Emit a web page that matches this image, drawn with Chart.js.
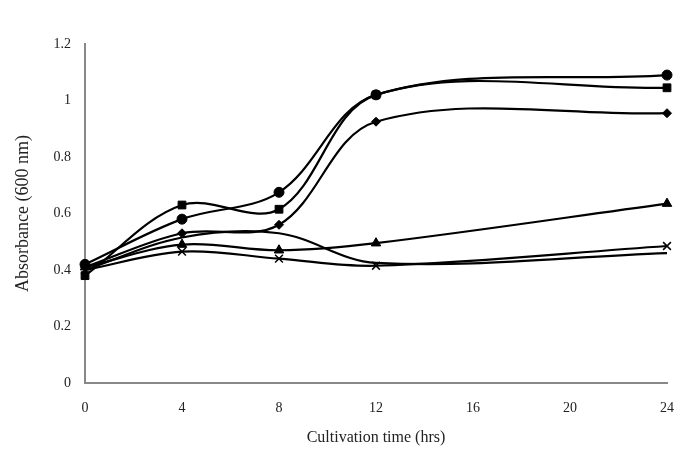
<!DOCTYPE html>
<html>
<head>
<meta charset="utf-8">
<script src="https://cdn.jsdelivr.net/npm/chart.js@4"></script>
<style>
  html, body { margin: 0; padding: 0; background: #fff; }
  #wrap { width: 683px; height: 456px; }
</style>
</head>
<body>
<div id="wrap"><canvas id="myChart" width="683" height="456"></canvas></div>
<script>
// sampling times (hrs)
const hours = [0, 4, 8, 12, 24];
const xTicks = [0, 4, 8, 12, 16, 20, 24];
const yTicks = [0, 0.2, 0.4, 0.6, 0.8, 1, 1.2];

// absorbance readings per series
const circleVals = [0.42, 0.58, 0.675, 1.02, 1.09];
const squareVals = [0.38, 0.63, 0.615, 1.02, 1.045];
const diamondVals = [0.41, 0.53, 0.56, 0.925, 0.955];
const triangleVals = [0.41, 0.49, 0.47, 0.495, 0.635];
const crossVals = [0.40, 0.465, 0.44, 0.415, 0.485];
const plainVals = [0.40, 0.515, 0.53, 0.425, 0.46];

const toPts = (vals) => vals.map((v, i) => ({ x: hours[i], y: v }));

const mkSet = (vals, style, radius) => ({
  data: toPts(vals),
  borderColor: '#000',
  backgroundColor: '#000',
  borderWidth: 2.2,
  pointStyle: style,
  pointRadius: radius,
  pointBorderWidth: style === 'crossRot' ? 1.5 : 1,
  tension: 0.35,
  clip: false,
  fill: false
});

const ctx = document.getElementById('myChart');
const tickFont = { family: 'Liberation Serif', size: 14 };

new Chart(ctx, {
  type: 'line',
  data: {
    datasets: [
      mkSet(plainVals, false, 0),
      mkSet(crossVals, 'crossRot', 5.5),
      mkSet(triangleVals, 'triangle', 5.5),
      mkSet(diamondVals, 'rectRot', 4.5),
      mkSet(squareVals, 'rect', 5.5),
      mkSet(circleVals, 'circle', 5)
    ]
  },
  options: {
    responsive: false,
    animation: false,
    layout: { padding: { top: 44, right: 16, left: 0, bottom: 0 } },
    plugins: { legend: { display: false }, tooltip: { enabled: false } },
    scales: {
      x: {
        type: 'linear',
        min: 0,
        max: 24,
        afterFit: (s) => { s.height = 73; s.paddingRight = 0; s.paddingLeft = 0; },
        afterBuildTicks: (s) => { s.ticks = xTicks.map(v => ({ value: v })); },
        grid: { display: false, drawTicks: false },
        border: { color: '#888', width: 2 },
        ticks: { padding: 17, color: '#222', font: tickFont, callback: (v) => String(v) },
        title: {
          display: true,
          text: 'Cultivation time (hrs)',
          color: '#222',
          padding: { top: 0, bottom: 9 },
          font: { family: 'Liberation Serif', size: 16 }
        }
      },
      y: {
        min: 0,
        max: 1.2,
        afterFit: (s) => { s.width = 85; s.paddingTop = 0; s.paddingBottom = 0; },
        afterBuildTicks: (s) => { s.ticks = yTicks.map(v => ({ value: v })); },
        grid: { display: false, drawTicks: false },
        border: { color: '#888', width: 2 },
        ticks: { padding: 14, color: '#222', font: tickFont, callback: (v) => String(v) },
        title: {
          display: true,
          text: 'Absorbance (600 nm)',
          color: '#222',
          padding: { top: 12, bottom: 0 },
          font: { family: 'Liberation Serif', size: 18 }
        }
      }
    }
  }
});
</script>
</body>
</html>
